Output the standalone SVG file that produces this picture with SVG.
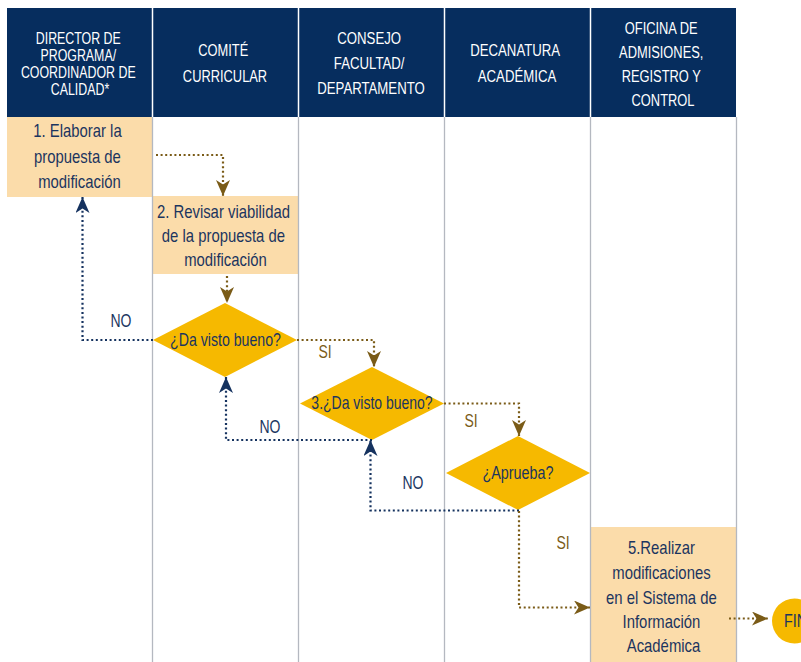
<svg xmlns="http://www.w3.org/2000/svg" width="801" height="662" viewBox="0 0 801 662">
  <style>
    .hdr { fill: #062d5e; }
    .hdrtxt { fill: #ffffff; font-family: "Liberation Sans", Arial, sans-serif; font-size: 16.5px; text-anchor: middle; }
    .lane { stroke: #b4b8c0; stroke-width: 1.3; }
    .sep { stroke: #ffffff; stroke-width: 1.5; }
    .box { fill: #fbdcaa; }
    .dia { fill: #f6b900; }
    .txt { fill: #1b355f; font-family: "Liberation Sans", Arial, sans-serif; font-size: 17.5px; text-anchor: middle; }
    .yes { fill: none; stroke: #7a5b17; stroke-width: 2.2; stroke-dasharray: 2 2.6; }
    .no { fill: none; stroke: #15325f; stroke-width: 2.2; stroke-dasharray: 2 2.6; }
    .lblyes { fill: #7a5b17; font-family: "Liberation Sans", Arial, sans-serif; font-size: 17.5px; text-anchor: middle; }
    .lblno { fill: #1b355f; font-family: "Liberation Sans", Arial, sans-serif; font-size: 17.5px; text-anchor: middle; }
  </style>
  <defs>
    <marker id="arrYes" markerUnits="userSpaceOnUse" markerWidth="18" markerHeight="16" refX="16" refY="7" orient="auto">
      <path d="M0,0 L16,7 L0,14 L4.5,7 z" fill="#7a5b17"/>
    </marker>
    <marker id="arrNo" markerUnits="userSpaceOnUse" markerWidth="18" markerHeight="16" refX="16" refY="7" orient="auto">
      <path d="M0,0 L16,7 L0,14 L4.5,7 z" fill="#15325f"/>
    </marker>
  </defs>

  <rect width="801" height="662" fill="#ffffff"/>

  <!-- swimlane header (condensed lettering via horizontal scale) -->
  <g id="header">
    <rect class="hdr" x="7" y="8" width="729" height="109"/>
    <line class="sep" x1="152.5" y1="8" x2="152.5" y2="117"/>
    <line class="sep" x1="298.5" y1="8" x2="298.5" y2="117"/>
    <line class="sep" x1="444.5" y1="8" x2="444.5" y2="117"/>
    <line class="sep" x1="590.5" y1="8" x2="590.5" y2="117"/>
    <text class="hdrtxt" transform="translate(80 0) scale(0.75 1)">
      <tspan x="0" y="44">DIRECTOR DE</tspan>
      <tspan x="0" y="61">PROGRAMA/</tspan>
      <tspan x="0" y="78">COORDINADOR DE</tspan>
      <tspan x="0" y="95">CALIDAD*</tspan>
    </text>
    <text class="hdrtxt" transform="translate(225 0) scale(0.78 1)">
      <tspan x="0" y="56">COMITÉ</tspan>
      <tspan x="0" y="82">CURRICULAR</tspan>
    </text>
    <text class="hdrtxt" transform="translate(371 0) scale(0.8 1)">
      <tspan x="0" y="44">CONSEJO</tspan>
      <tspan x="0" y="69">FACULTAD/</tspan>
      <tspan x="0" y="94">DEPARTAMENTO</tspan>
    </text>
    <text class="hdrtxt" transform="translate(517 0) scale(0.8 1)">
      <tspan x="0" y="56">DECANATURA</tspan>
      <tspan x="0" y="82">ACADÉMICA</tspan>
    </text>
    <text class="hdrtxt" transform="translate(663 0) scale(0.78 1)">
      <tspan x="0" y="34">OFICINA DE</tspan>
      <tspan x="0" y="58">ADMISIONES,</tspan>
      <tspan x="0" y="82">REGISTRO Y</tspan>
      <tspan x="0" y="106">CONTROL</tspan>
    </text>
  </g>

  <!-- process boxes -->
  <g id="step1">
    <rect class="box" x="7" y="117" width="145.5" height="80"/>
    <text class="txt" transform="translate(79.5 0) scale(0.85 1)">
      <tspan x="0" y="137">1. Elaborar la</tspan>
      <tspan x="0" y="163">propuesta de</tspan>
      <tspan x="0" y="188">modificación</tspan>
    </text>
  </g>
  <g id="step2">
    <rect class="box" x="152.5" y="196" width="146" height="78"/>
    <text class="txt" transform="translate(225.5 0) scale(0.85 1)">
      <tspan x="0" y="218">2. Revisar viabilidad</tspan>
      <tspan x="0" y="242">de la propuesta de</tspan>
      <tspan x="0" y="266">modificación</tspan>
    </text>
  </g>
  <g id="step5">
    <rect class="box" x="590.5" y="527" width="146" height="135"/>
    <text class="txt" transform="translate(663.5 0) scale(0.85 1)">
      <tspan x="0" y="554">5.Realizar</tspan>
      <tspan x="0" y="579">modificaciones</tspan>
      <tspan x="0" y="604">en el Sistema de</tspan>
      <tspan x="0" y="628">Información</tspan>
      <tspan x="0" y="652">Académica</tspan>
    </text>
  </g>

  <!-- lane dividers -->
  <g id="lanes">
    <line class="lane" x1="152.5" y1="117" x2="152.5" y2="662"/>
    <line class="lane" x1="298.5" y1="117" x2="298.5" y2="662"/>
    <line class="lane" x1="444.5" y1="117" x2="444.5" y2="662"/>
    <line class="lane" x1="590.5" y1="117" x2="590.5" y2="662"/>
    <line class="lane" x1="736.5" y1="117" x2="736.5" y2="662"/>
  </g>

  <!-- decisions -->
  <g id="decision1">
    <polygon class="dia" points="225,303 297,340 225,377 153,340"/>
    <text class="txt" transform="translate(225.5 0) scale(0.81 1)" x="0" y="346">¿Da visto bueno?</text>
  </g>
  <g id="decision3">
    <polygon class="dia" points="372,367 444,403.5 372,440 300,403.5"/>
    <text class="txt" transform="translate(372 0) scale(0.8 1)" x="0" y="409">3.¿Da visto bueno?</text>
  </g>
  <g id="decision4">
    <polygon class="dia" points="518,436 590,473 518,510 446,473"/>
    <text class="txt" transform="translate(518 0) scale(0.82 1)" x="0" y="479">¿Aprueba?</text>
  </g>

  <g id="fin">
    <circle cx="794.5" cy="621" r="22.5" fill="#f6b900"/>
    <text class="txt" transform="translate(784 0) scale(0.82 1)" x="0" y="627" style="text-anchor:start">FIN</text>
  </g>

  <!-- connectors -->
  <g id="connectors">
    <path class="yes" d="M156,155 H223 V196" marker-end="url(#arrYes)"/>
    <path class="yes" d="M227,276 V303" marker-end="url(#arrYes)"/>
    <path class="no" d="M153,340 H82.5 V197" marker-end="url(#arrNo)"/>
    <path class="yes" d="M297,340 H374 V367" marker-end="url(#arrYes)"/>
    <path class="no" d="M372,440 H226 V377" marker-end="url(#arrNo)"/>
    <path class="yes" d="M444,403.5 H519 V436" marker-end="url(#arrYes)"/>
    <path class="no" d="M519,510.5 H370.5 V440" marker-end="url(#arrNo)"/>
    <path class="yes" d="M519,511 V607.5 H590" marker-end="url(#arrYes)"/>
    <path class="yes" d="M729,618.5 H768" marker-end="url(#arrYes)"/>
  </g>

  <!-- connector labels -->
  <g id="labels">
    <text class="lblno" transform="translate(121 0) scale(0.8 1)" x="0" y="327">NO</text>
    <text class="lblyes" transform="translate(325 0) scale(0.8 1)" x="0" y="358">SI</text>
    <text class="lblno" transform="translate(270 0) scale(0.8 1)" x="0" y="433">NO</text>
    <text class="lblyes" transform="translate(471 0) scale(0.8 1)" x="0" y="427">SI</text>
    <text class="lblno" transform="translate(413 0) scale(0.8 1)" x="0" y="489">NO</text>
    <text class="lblyes" transform="translate(563 0) scale(0.8 1)" x="0" y="549">SI</text>
  </g>
</svg>
